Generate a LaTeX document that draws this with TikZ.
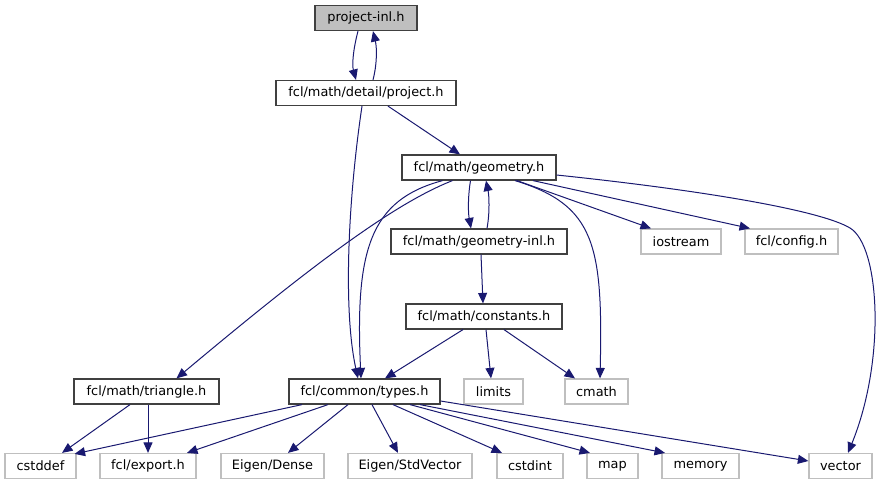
\documentclass[tikz,border=0pt]{standalone}
\usepackage{fontspec}
\setmainfont{DejaVu Sans}
\usetikzlibrary{arrows.meta}
\definecolor{edgeblue}{HTML}{191970}
\definecolor{darkborder}{HTML}{404040}
\definecolor{lightborder}{HTML}{BFBFBF}
\definecolor{rootfill}{HTML}{BFBFBF}
\tikzset{
  box/.style={draw=darkborder, line width=1.2pt, fill=white, minimum height=25pt, inner sep=0pt, font=\fontsize{12.9}{14}\selectfont, text=black},
  extbox/.style={draw=lightborder, line width=1.2pt, fill=white, minimum height=25pt, inner sep=0pt, font=\fontsize{12.9}{14}\selectfont, text=black},
  rootbox/.style={box, fill=rootfill},
  edge/.style={draw=edgeblue, line width=1pt, -{Triangle[length=10.5pt,width=9pt]}}
}
\begin{document}
\begin{tikzpicture}[x=1pt,y=-1pt]
\useasboundingbox (0,0) rectangle (885,485);
% nodes
\node[rootbox, minimum width=102pt] (pinl) at (366,18) {project-inl.h};
\node[box, minimum width=180pt] (proj) at (366,93) {fcl/math/detail/project.h};
\node[box, minimum width=154pt] (geom) at (479,167.5) {fcl/math/geometry.h};
\node[box, minimum width=176pt] (geominl) at (479,241.5) {fcl/math/geometry-inl.h};
\node[extbox, minimum width=80pt] (iostream) at (681,241.5) {iostream};
\node[extbox, minimum width=93pt] (config) at (791.5,241.5) {fcl/config.h};
\node[box, minimum width=156pt] (const) at (484,316.5) {fcl/math/constants.h};
\node[box, minimum width=145pt] (tri) at (146.5,391.5) {fcl/math/triangle.h};
\node[box, minimum width=151pt] (types) at (364.5,391.5) {fcl/common/types.h};
\node[extbox, minimum width=59pt] (limits) at (493.5,391.5) {limits};
\node[extbox, minimum width=63pt] (cmath) at (596.5,391.5) {cmath};
\node[extbox, minimum width=71pt] (cstddef) at (40.5,466) {cstddef};
\node[extbox, minimum width=96pt] (export) at (148,466) {fcl/export.h};
\node[extbox, minimum width=103pt] (dense) at (272.5,466) {Eigen/Dense};
\node[extbox, minimum width=124pt] (stdvec) at (410,466) {Eigen/StdVector};
\node[extbox, minimum width=66pt] (cstdint) at (530,466) {cstdint};
\node[extbox, minimum width=51pt] (map) at (612.5,466) {map};
\node[extbox, minimum width=77pt] (memory) at (700.5,466) {memory};
\node[extbox, minimum width=63pt] (vector) at (840.5,466) {vector};
% edges
\draw[edge] ([xshift=-8pt]pinl.south) .. controls (353,50) and (352,65) .. ([xshift=-10pt]proj.north);
\draw[edge] ([xshift=7pt]proj.north) .. controls (377,65) and (377,48) .. ([xshift=7pt]pinl.south);
\draw[edge] ([xshift=22pt]proj.south) -- ([xshift=-19pt]geom.north);
\draw[edge] ([xshift=-4pt]proj.south) .. controls (348,200) and (343,310) .. ([xshift=-6.5pt]types.north);
\draw[edge] ([xshift=-26.5pt]geom.south) .. controls (390,205) and (300,275) .. ([xshift=30pt]tri.north);
\draw[edge] ([xshift=-36.5pt]geom.south) .. controls (370,200) and (355,250) .. ([xshift=-3.5pt]types.north);
\draw[edge] ([xshift=-8.5pt]geom.south) .. controls (468,195) and (468,212) .. ([xshift=-8pt]geominl.north);
\draw[edge] ([xshift=8pt]geominl.north) .. controls (490,212) and (489,195) .. ([xshift=7pt]geom.south);
\draw[edge] ([xshift=38pt]geom.south) -- ([xshift=-30pt]iostream.north);
\draw[edge] ([xshift=54pt]geom.south) -- ([xshift=-41.5pt]config.north);
\draw[edge] ([xshift=36pt]geom.south) .. controls (595,205) and (603,245) .. ([xshift=3.5pt]cmath.north);
\coordinate (vbend) at (850,228);
\draw[edge] ([yshift=-7.5pt]geom.east) .. controls (700,190) and (820,210) .. (vbend) .. controls (880,246) and (886,360) .. ([xshift=7.5pt]vector.north);
\draw[edge] ([xshift=2pt]geominl.south) -- ([xshift=-1pt]const.north);
\draw[edge] ([xshift=-21pt]const.south) -- ([xshift=20.5pt]types.north);
\draw[edge] ([xshift=2pt]const.south) -- ([xshift=-2.5pt]limits.north);
\draw[edge] ([xshift=20pt]const.south) -- ([xshift=-21.5pt]cmath.north);
\draw[edge] ([xshift=-16.5pt]tri.south) -- ([xshift=21.5pt]cstddef.north);
\draw[edge] ([xshift=1.5pt]tri.south) -- ([xshift=0pt]export.north);
\draw[edge] ([xshift=-62.5pt]types.south) -- ([xshift=-2pt,yshift=-1pt]cstddef.north east);
\draw[edge] ([xshift=-36.5pt]types.south) -- ([xshift=39pt]export.north);
\draw[edge] ([xshift=-16.5pt]types.south) -- ([xshift=15.5pt]dense.north);
\draw[edge] ([xshift=7.5pt]types.south) -- ([xshift=-12pt]stdvec.north);
\draw[edge] ([xshift=28.5pt]types.south) -- ([xshift=-28pt]cstdint.north);
\draw[edge] ([xshift=45.5pt]types.south) -- ([xshift=-22.5pt]map.north);
\draw[edge] ([xshift=55.5pt]types.south) -- ([xshift=-35.5pt]memory.north);
\draw[edge] ([yshift=-9.5pt]types.east) -- ([yshift=5pt]vector.west);
\end{tikzpicture}
\end{document}
